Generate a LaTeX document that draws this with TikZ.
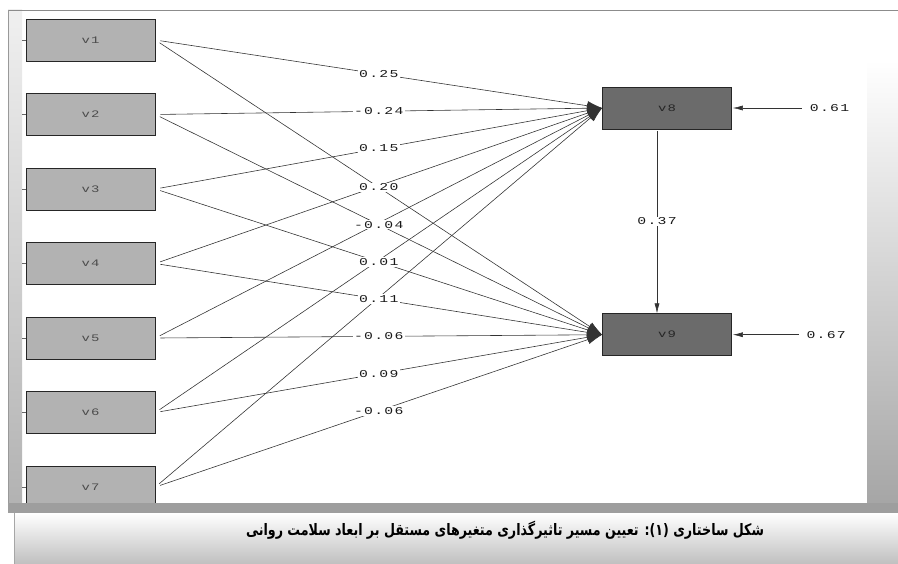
\documentclass[tikz,border=0pt]{standalone}
\usepackage{fontspec}
\usepackage{tikz}
\usetikzlibrary{positioning, shapes, arrows.meta}
\TeXXeTstate=1
\newfontfamily\lisrelfont[FakeStretch=1.4, LetterSpace=12]{Liberation Mono}
\newfontfamily\persianfont[Script=Arabic, FakeStretch=0.8]{DejaVu Sans}

\begin{document}
\begin{tikzpicture}[
    x=0.03cm, y=-0.03cm,
    node distance=0.954cm,
    varbox/.style={rectangle, draw=black!85, line width=0.6pt, minimum width=3.87cm, minimum height=1.26cm, inner sep=0pt, font=\lisrelfont\fontsize{8.5}{9}\selectfont},
    exo/.style={varbox, fill=black!30, text=black!70},
    endo/.style={varbox, fill=black!58, text=black!85},
    coef/.style={fill=white, inner sep=1pt, text=black!90, font=\lisrelfont\fontsize{9}{10}\selectfont},
    effect/.style={draw=black!80, line width=0.5pt, shorten <=0.15cm, -{Latex[length=0.45cm, width=0.28cm]}},
    errarrow/.style={draw=black!80, line width=0.5pt, -{Latex[length=0.3cm, width=0.15cm]}},
    tick/.style={draw=black!60, line width=0.4pt}
]
\useasboundingbox (0,0) rectangle (898,564);

% Window frame
\shade[top color=black!6, bottom color=black!30] (8,10) rectangle (22,503);
\draw[black!45] (8,10) -- (898,10);
\draw[black!40] (8,10) -- (8,503);
\shade[top color=white, bottom color=black!35] (867,60) rectangle (898,503);

% Independent variables
\node[exo] (v1) at (90.5,40) {v1};
\node[exo, below=of v1] (v2) {v2};
\node[exo, below=of v2] (v3) {v3};
\node[exo, below=of v3] (v4) {v4};
\node[exo, below=of v4] (v5) {v5};
\node[exo, below=of v5] (v6) {v6};
\node[exo, below=of v6] (v7) {v7};

% Dependent variables
\node[endo] (v8) at (667,108) {v8};
\node[endo, below=5.52cm of v8] (v9) {v9};

% Error terms
\node[coef, right=2.3cm of v8] (e8) {0.61};
\node[coef, right=2.2cm of v9] (e9) {0.67};

% Ticks on the left
\draw[tick] (v1.west) -- ++(-4,0);
\draw[tick] (v2.west) -- ++(-4,0);
\draw[tick] (v3.west) -- ++(-4,0);
\draw[tick] (v4.west) -- ++(-4,0);
\draw[tick] (v5.west) -- ++(-4,0);
\draw[tick] (v6.west) -- ++(-4,0);
\draw[tick] (v7.west) -- ++(-4,0);

% Paths to v8
\draw[effect] (v1.east) -- node[coef] {0.25} (v8.west);
\draw[effect] (v2.east) -- node[coef] {-0.24} (v8.west);
\draw[effect] (v3.east) -- node[coef] {0.15} (v8.west);
\draw[effect] (v4.east) -- (v8.west);
\draw[effect] (v5.east) -- (v8.west);
\draw[effect] (v6.east) -- (v8.west);
\draw[effect] (v7.east) -- (v8.west);

% Paths to v9
\draw[effect] (v1.east) -- node[coef] {0.20} (v9.west);
\draw[effect] (v2.east) -- node[coef] {-0.04} (v9.west);
\draw[effect] (v3.east) -- node[coef] {0.01} (v9.west);
\draw[effect] (v4.east) -- node[coef] {0.11} (v9.west);
\draw[effect] (v5.east) -- node[coef] {-0.06} (v9.west);
\draw[effect] (v6.east) -- node[coef] {0.09} (v9.west);
\draw[effect] (v7.east) -- node[coef] {-0.06} (v9.west);

% v8 -> v9 and errors
\draw[errarrow, shorten <=0.06cm] ([xshift=-0.3cm]v8.south) -- node[coef] {0.37} ([xshift=-0.3cm]v9.north);
\draw[errarrow, shorten <=0.2cm, shorten >=0.03cm] (e8) -- (v8);
\draw[errarrow, shorten <=0.2cm, shorten >=0.03cm] (e9) -- (v9);

% Bottom bar and caption
\fill[black!38] (8,503) rectangle (898,513);
\shade[top color=white, bottom color=black!25] (14,513) rectangle (898,564);
\draw[black!35] (14,513) -- (14,564);
\node[font=\persianfont\bfseries\fontsize{13.5}{15}\selectfont] (caption) at (505,530) {\beginR شکل ساختاری (۱): تعیین مسیر تاثیرگذاری متغیرهای مستقل بر ابعاد سلامت روانی\endR};

\end{tikzpicture}
\end{document}
